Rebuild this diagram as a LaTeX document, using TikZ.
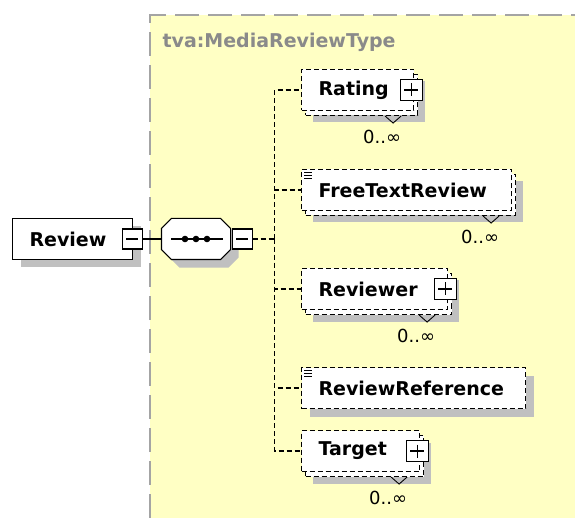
\documentclass[tikz,border=0pt]{standalone}
\usepackage{fontspec}
\setmainfont{DejaVu Sans}
\usetikzlibrary{positioning,shadows}
\definecolor{panelyellow}{HTML}{FFFFC4}
\definecolor{panelgray}{HTML}{A4A4A4}
\definecolor{titlegray}{HTML}{8A8A8A}
\definecolor{shadowgray}{HTML}{C0C0C0}
\newcommand{\elemfont}{\fontsize{19}{23}\selectfont\bfseries}
\newcommand{\multfont}{\fontsize{18}{21}\selectfont}

\begin{document}
\begin{tikzpicture}[x=1pt, y=-1pt, line width=1.1pt,
    elem/.style={draw, fill=white, font=\elemfont, anchor=west, minimum height=41pt,
        inner xsep=17pt, inner ysep=0pt, text width=#1, align=left},
    optional/.style={dash pattern=on 5pt off 3pt},
    shade1/.style={drop shadow={fill=shadowgray, opacity=1, shadow xshift=8pt, shadow yshift=-8pt}},
    multi/.style={drop shadow={fill=shadowgray, opacity=1, shadow xshift=11pt, shadow yshift=-12pt},
        copy shadow={draw, fill=white, dash pattern=on 5pt off 3pt, shadow xshift=4pt, shadow yshift=-5pt}},
    seqbox/.style={minimum width=68pt, minimum height=40pt, inner sep=0pt},
    minusbox/.style={draw, fill=white, solid, minimum size=20pt, inner sep=0pt,
        path picture={\draw ([xshift=4pt]path picture bounding box.west) -- ([xshift=-4pt]path picture bounding box.east);}},
    plusbox/.style={draw, fill=white, solid, minimum width=22pt, minimum height=21pt, inner sep=0pt,
        path picture={\draw ([xshift=4pt]path picture bounding box.west) -- ([xshift=-4pt]path picture bounding box.east)
            ([yshift=-4pt]path picture bounding box.north) -- ([yshift=4pt]path picture bounding box.south);}},
    mult/.style={font=\multfont, inner sep=0pt},
    notch/.style={line width=0.9pt},
    optline/.style={dash pattern=on 5pt off 3pt},
    panelline/.style={draw=panelgray, line width=2.5pt, dash pattern=on 24pt off 9pt},
    title/.style={font=\elemfont, text=titlegray, anchor=west, inner sep=0pt}]

    \useasboundingbox (0,0) rectangle (575,518);
    \fill[panelyellow] (150,15) rectangle (575,518);
    \draw[panelline] (150,518) -- (150,15) -- (575,15);
    \node[title] (typename) at (162,42) {tva:MediaReviewType};

    \node[elem=86pt, shade1] (review) at (12,239) {Review};
    \node[minusbox] (reviewm) at ([xshift=-1pt]review.east) {};

    \node[seqbox] (seq) at (196,239) {};
    \draw[fill=white, shade1] ([xshift=10pt]seq.north west) -- ([xshift=-10pt]seq.north east)
        -- ([yshift=-10pt]seq.north east) -- ([yshift=10pt]seq.south east)
        -- ([xshift=-10pt]seq.south east) -- ([xshift=10pt]seq.south west)
        -- ([yshift=10pt]seq.south west) -- ([yshift=-10pt]seq.north west) -- cycle;
    \node[minusbox, right=1pt of seq] (seqm) {};
    \draw ([xshift=10pt]seq.west) -- ([xshift=-8pt]seq.east);
    \foreach \dx in {-11,0,11}
        \fill ([xshift=\dx pt]seq.center) circle (3.3pt);
    \coordinate (fork) at ([xshift=22pt]seqm.east);

    \node[elem=78pt, optional, multi] (rating) at (301,90) {Rating};
    \node[elem=176pt, optional, multi] (freetext) at (301,190) {FreeTextReview};
    \node[elem=112pt, optional, multi] (reviewer) at (301,289) {Reviewer};
    \node[elem=190pt, optional, shade1] (reviewref) at (301,388) {ReviewReference};
    \node[elem=84pt, optional, multi] (target) at (301,451) {Target};

    \node[plusbox] (ratingp) at ([xshift=-3pt]rating.east) {};
    \node[plusbox] (reviewerp) at ([xshift=-3pt]reviewer.east) {};
    \node[plusbox] (targetp) at ([xshift=-3pt]target.east) {};

    \foreach \e in {freetext,reviewref}
        \foreach \dy in {3,6,9}
            \draw[line width=0.8pt] ([shift={(3pt,-\dy pt)}]\e.north west) -- ++(8,0);

    \foreach \e in {rating,freetext,reviewer,target} {
        \draw[notch] ([shift={(-29pt,-5pt)}]\e.south east) -- ++(8,7) -- ++(8,-7);
        \node[mult] (\e mult) at ([shift={(-32pt,-26pt)}]\e.south east) {0..∞};
    }

    \draw (reviewm) -- (seq);
    \draw[optline] (seqm) -- (fork);
    \foreach \e in {rating,freetext,reviewer,reviewref,target}
        \draw[optline] (fork) |- (\e.west);

\end{tikzpicture}
\end{document}
